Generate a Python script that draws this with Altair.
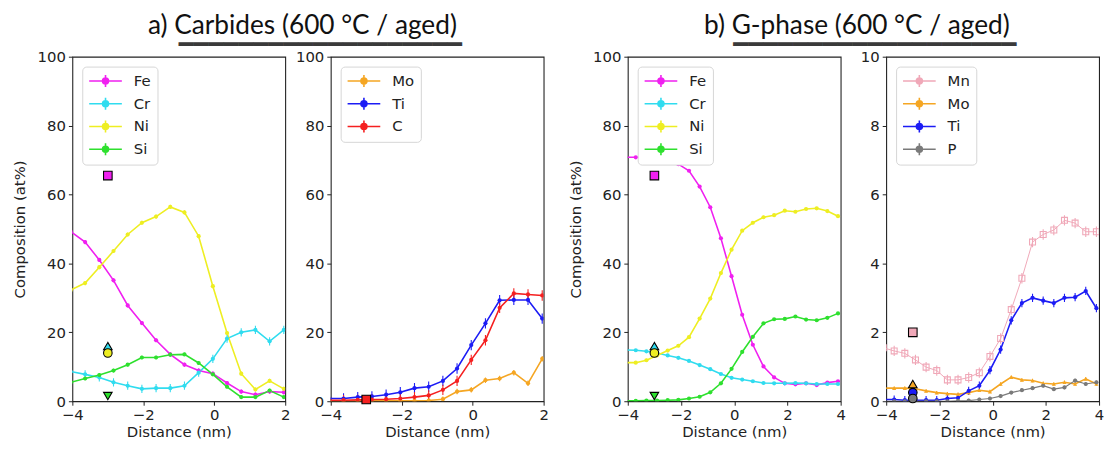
import altair as alt
import pandas as pd

# ---------------- data ----------------
XA = [-4.04, -3.64, -3.24, -2.84, -2.44, -2.04, -1.64, -1.24, -0.84, -0.44,
      -0.04, 0.36, 0.76, 1.16, 1.56, 1.96]
XB = [-4.1, -3.7, -3.3, -2.9, -2.5, -2.1, -1.7, -1.3, -0.9, -0.5, -0.1,
      0.3, 0.7, 1.1, 1.5, 1.9, 2.3, 2.7, 3.1, 3.5, 3.9]

# a) Carbides, left panel
fe_a = [49.2, 46.2, 41.0, 35.1, 27.8, 22.7, 17.7, 13.6, 10.6, 8.9, 8.0, 5.3, 2.8, 1.9, 2.8, 2.6]
cr_a = [8.6, 7.8, 6.9, 5.5, 4.5, 3.6, 3.8, 3.8, 4.5, 8.3, 12.3, 18.2, 20.0, 20.7, 17.4, 20.7]
ni_a = [32.3, 34.3, 38.9, 43.6, 48.4, 51.8, 53.6, 56.4, 54.8, 47.9, 33.4, 19.8, 8.0, 3.4, 5.9, 3.6]
si_a = [5.5, 6.6, 7.6, 8.9, 10.6, 12.7, 12.7, 13.5, 13.6, 11.1, 7.8, 4.2, 1.2, 1.2, 3.1, 1.2]
# a) Carbides, right panel
mo_a = [0.1, 0.1, 0.1, 0.1, 0.1, 0.1, 0.1, 0.2, 0.6, 2.8, 3.3, 6.1, 6.6, 8.3, 5.2, 12.3]
ti_a = [0.8, 0.8, 1.2, 1.4, 1.9, 2.6, 3.8, 4.2, 5.9, 9.5, 16.3, 22.6, 29.3, 29.4, 29.4, 24.0]
c_a = [0.3, 0.3, 0.4, 0.5, 0.6, 0.8, 1.2, 1.7, 3.3, 5.9, 12.0, 17.7, 27.1, 31.3, 31.0, 30.7]

# b) G-phase, left panel
fe_b = [70.8, 70.8, 70.8, 70.6, 70.2, 68.8, 66.9, 62.3, 56.3, 47.3, 36.3, 25.1, 16.4, 10.1,
        6.9, 5.2, 4.9, 5.2, 4.7, 5.4, 5.8]
cr_b = [14.9, 14.8, 14.5, 14.0, 13.3, 12.6, 11.7, 10.5, 9.3, 7.9, 6.8, 6.3, 5.8, 5.3,
        5.2, 5.2, 5.3, 5.2, 5.0, 5.0, 5.0]
ni_b = [11.2, 11.2, 11.9, 13.3, 14.7, 16.1, 18.6, 24.0, 29.8, 37.2, 44.0, 49.5, 51.8, 53.4,
        54.0, 55.3, 55.0, 55.8, 56.0, 55.2, 53.7]
si_b = [0.1, 0.1, 0.2, 0.2, 0.3, 0.4, 0.8, 1.3, 2.6, 5.2, 9.4, 14.3, 18.7, 22.6,
        23.8, 23.9, 24.6, 23.7, 23.5, 24.2, 25.5]
# b) G-phase, right panel
mn_b = [1.55, 1.46, 1.39, 1.2, 0.99, 0.89, 0.62, 0.62, 0.69, 0.83, 1.30, 1.82, 2.66, 3.57,
        4.62, 4.84, 4.97, 5.25, 5.17, 4.92, 4.92]
mo_b = [0.38, 0.38, 0.38, 0.36, 0.3, 0.25, 0.22, 0.2, 0.25, 0.32, 0.28, 0.5, 0.7, 0.62,
        0.6, 0.52, 0.5, 0.55, 0.5, 0.65, 0.5]
ti_b = [0.05, 0.05, 0.03, 0.03, 0.03, 0.03, 0.08, 0.1, 0.3, 0.45, 0.9, 1.5, 2.35, 2.85,
        3.0, 2.92, 2.85, 3.0, 3.02, 3.2, 2.7]
p_b = [0.0, 0.0, 0.0, 0.0, 0.0, 0.0, 0.0, 0.01, 0.02, 0.05, 0.08, 0.15, 0.25, 0.32,
       0.38, 0.45, 0.35, 0.4, 0.6, 0.5, 0.55]

# error-bar half widths per series
err_a1 = {"Fe": 0.6, "Cr": 1.2, "Ni": 0.6, "Si": 0.5}
err_a2 = {"Mo": 0.8, "Ti": 1.5, "C": 1.5}
err_b1 = {"Fe": 0.4, "Cr": 0.3, "Ni": 0.4, "Si": 0.3}
err_b2 = {"Mn": 0.15, "Mo": 0.05, "Ti": 0.12, "P": 0.05}

# bulk composition markers (at x = -3)
bulk_x = -3
bulk_a1 = [("Fe", 65.5, "square"), ("Cr", 16.0, "triangle-up"), ("Ni", 14.0, "circle"),
           ("Si", 1.5, "triangle-down")]
bulk_a2 = [("C", 0.5, "square")]
bulk_b1 = bulk_a1
bulk_b2 = [("Mn", 2.0, "square"), ("Mo", 0.5, "triangle-up"), ("Ti", 0.25, "circle"),
           ("P", 0.08, "circle")]

TITLE_A = ("a) ", "Carbides (600 °C / aged)")
TITLE_B = ("b) ", "G-phase (600 °C / aged)")

COL = {"Fe": "#f020f0", "Cr": "#30dcef", "Ni": "#eeee22", "Si": "#2ee02e",
       "Mo": "#f5a623", "Ti": "#1c1cf5", "C": "#f52020", "Mn": "#f0a8b8", "P": "#7a7a7a"}

LEG_PATH = ("M-2.2,0L2.2,0M0,-0.8L0,0.8"
            "M-0.4,0A0.4,0.4,0,1,1,0.4,0A0.4,0.4,0,1,1,-0.4,0Z")

PW, PH = 215, 348


def build_df(xs, series, errs, shapes, open_set=(), widths=None):
    rows = []
    for name, vals in series:
        for x, v in zip(xs, vals):
            e = errs[name]
            rows.append({"x": x, "y": v, "s": name, "lo": max(v - e, 0), "hi": v + e,
                         "shape": shapes.get(name, "circle"),
                         "open": name in open_set,
                         "lw": (widths or {}).get(name, 1.6),
                         "msize": 36 if name in open_set else 18})
    return pd.DataFrame(rows)


def build_bulk(items):
    return pd.DataFrame([{"x": bulk_x, "y": v, "s": n, "shape": sh} for n, v, sh in items])


def panel(df, bulk, names, xdom, xvals, ydom, yvals, ytitle):
    color = alt.Color("s:N", scale=alt.Scale(domain=names, range=[COL[n] for n in names]),
                      title=None,
                      legend=alt.Legend(orient="top-left", offset=10, symbolType=LEG_PATH,
                                        symbolSize=225, symbolStrokeWidth=1.6,
                                        symbolOffset=9, labelOffset=20,
                                        labelFont="DejaVu Sans", labelFontSize=15,
                                        labelColor="#222", rowPadding=4, padding=6,
                                        strokeColor="#d6d6d6", fillColor="#ffffff",
                                        cornerRadius=4))
    xs = alt.Scale(domain=xdom, nice=False, zero=False)
    ys = alt.Scale(domain=ydom, nice=False, zero=False)
    xax = alt.Axis(values=xvals, title="Distance (nm)", format="d", labelFlush=False,
                   labelExpr="replace(datum.label, '-', '\u2212')")
    yax = alt.Axis(values=yvals, title=ytitle) if ytitle else alt.Axis(values=yvals, title=None)
    X = alt.X("x:Q", scale=xs, axis=xax)
    Y = alt.Y("y:Q", scale=ys, axis=yax)

    base = alt.Chart(df)
    line = base.mark_line(clip=True).encode(
        x=X, y=Y, color=color,
        strokeWidth=alt.StrokeWidth("lw:Q", scale=None),
        order="x:Q")
    errb = base.mark_rule(clip=True, strokeWidth=1.1).encode(
        x=X, y=alt.Y("lo:Q", scale=ys, axis=yax), y2="hi:Q", color=color)
    pts = base.transform_filter("!datum.open").mark_point(
        filled=True, clip=True, opacity=1).encode(
        x=X, y=Y, color=color,
        shape=alt.Shape("shape:N", scale=None),
        size=alt.Size("msize:Q", scale=None))
    layers = [line, errb, pts]
    if df["open"].any():
        opts = base.transform_filter("datum.open").mark_point(
            filled=False, clip=True, opacity=1, strokeWidth=1.1).encode(
            x=X, y=Y, color=color,
            shape=alt.Shape("shape:N", scale=None),
            size=alt.Size("msize:Q", scale=None))
        layers.append(opts)
    blk = alt.Chart(bulk).mark_point(filled=True, opacity=1, stroke="black",
                                     strokeWidth=1.1, size=75).encode(
        x=X, y=Y, color=color, shape=alt.Shape("shape:N", scale=None))
    layers.append(blk)
    return alt.layer(*layers).properties(width=PW, height=PH)


shapes_a1 = {"Fe": "circle", "Cr": "circle", "Ni": "circle", "Si": "circle"}
shapes_a2 = {"Mo": "circle", "Ti": "circle", "C": "circle"}
shapes_b2 = {"Mn": "square", "Mo": "triangle-up", "Ti": "circle", "P": "circle"}

df_a1 = build_df(XA, [("Fe", fe_a), ("Cr", cr_a), ("Ni", ni_a), ("Si", si_a)], err_a1, shapes_a1)
df_a2 = build_df(XA, [("Mo", mo_a), ("Ti", ti_a), ("C", c_a)], err_a2, shapes_a2)
df_b1 = build_df(XB, [("Fe", fe_b), ("Cr", cr_b), ("Ni", ni_b), ("Si", si_b)], err_b1, shapes_a1)
df_b2 = build_df(XB, [("Mn", mn_b), ("Mo", mo_b), ("Ti", ti_b), ("P", p_b)], err_b2, shapes_b2,
                 open_set=("Mn",), widths={"Mn": 1.0, "P": 1.2})

p1 = panel(df_a1, build_bulk(bulk_a1), ["Fe", "Cr", "Ni", "Si"], [-4, 2], [-4, -2, 0, 2],
           [0, 100], [0, 20, 40, 60, 80, 100], "Composition (at%)")
p2 = panel(df_a2, build_bulk(bulk_a2), ["Mo", "Ti", "C"], [-4, 2], [-4, -2, 0, 2],
           [0, 100], [0, 20, 40, 60, 80, 100], None)
p3 = panel(df_b1, build_bulk(bulk_b1), ["Fe", "Cr", "Ni", "Si"], [-4, 4], [-4, -2, 0, 2, 4],
           [0, 100], [0, 20, 40, 60, 80, 100], "Composition (at%)")
p4 = panel(df_b2, build_bulk(bulk_b2), ["Mn", "Mo", "Ti", "P"], [-4, 4], [-4, -2, 0, 2, 4],
           [0, 10], [0, 2, 4, 6, 8, 10], None)

# underline for the underlined part of each title: blank braille cells + lower-eighth blocks
UL = "\u2800\u2800" + "\u2581" * 19


def title(parts, dx):
    return alt.TitleParams(text=parts[0] + parts[1], subtitle=UL,
                           font="Lato", fontSize=26.5, fontWeight="normal", color="#111",
                           subtitleFont="DejaVu Sans Mono", subtitleFontSize=25,
                           subtitleColor="#3a3a3a", subtitlePadding=-19,
                           anchor="middle", offset=4, dx=dx)


ga = alt.hconcat(p1, p2, spacing=3, title=title(TITLE_A, 22)).resolve_scale(color="independent")
gb = alt.hconcat(p3, p4, spacing=3, title=title(TITLE_B, 21)).resolve_scale(color="independent")

chart = alt.hconcat(ga, gb, spacing=18).resolve_scale(color="independent").properties(
    padding={"left": 4, "top": 2, "right": 0, "bottom": 0}
).configure_view(
    stroke="#222", strokeWidth=1.1
).configure_axis(
    grid=False, domain=False, tickColor="#222", tickSize=4, tickWidth=1,
    labelFont="DejaVu Sans", labelFontSize=15, labelColor="#222", labelPadding=3,
    titleFont="DejaVu Sans", titleFontSize=15, titleFontWeight="normal", titleColor="#222"
).configure_axisY(
    minExtent=36, maxExtent=36, titlePadding=9
).configure_axisX(
    labelPadding=2, titlePadding=3
)

chart.save("out.html", embed_options={"renderer": "svg", "actions": False})
